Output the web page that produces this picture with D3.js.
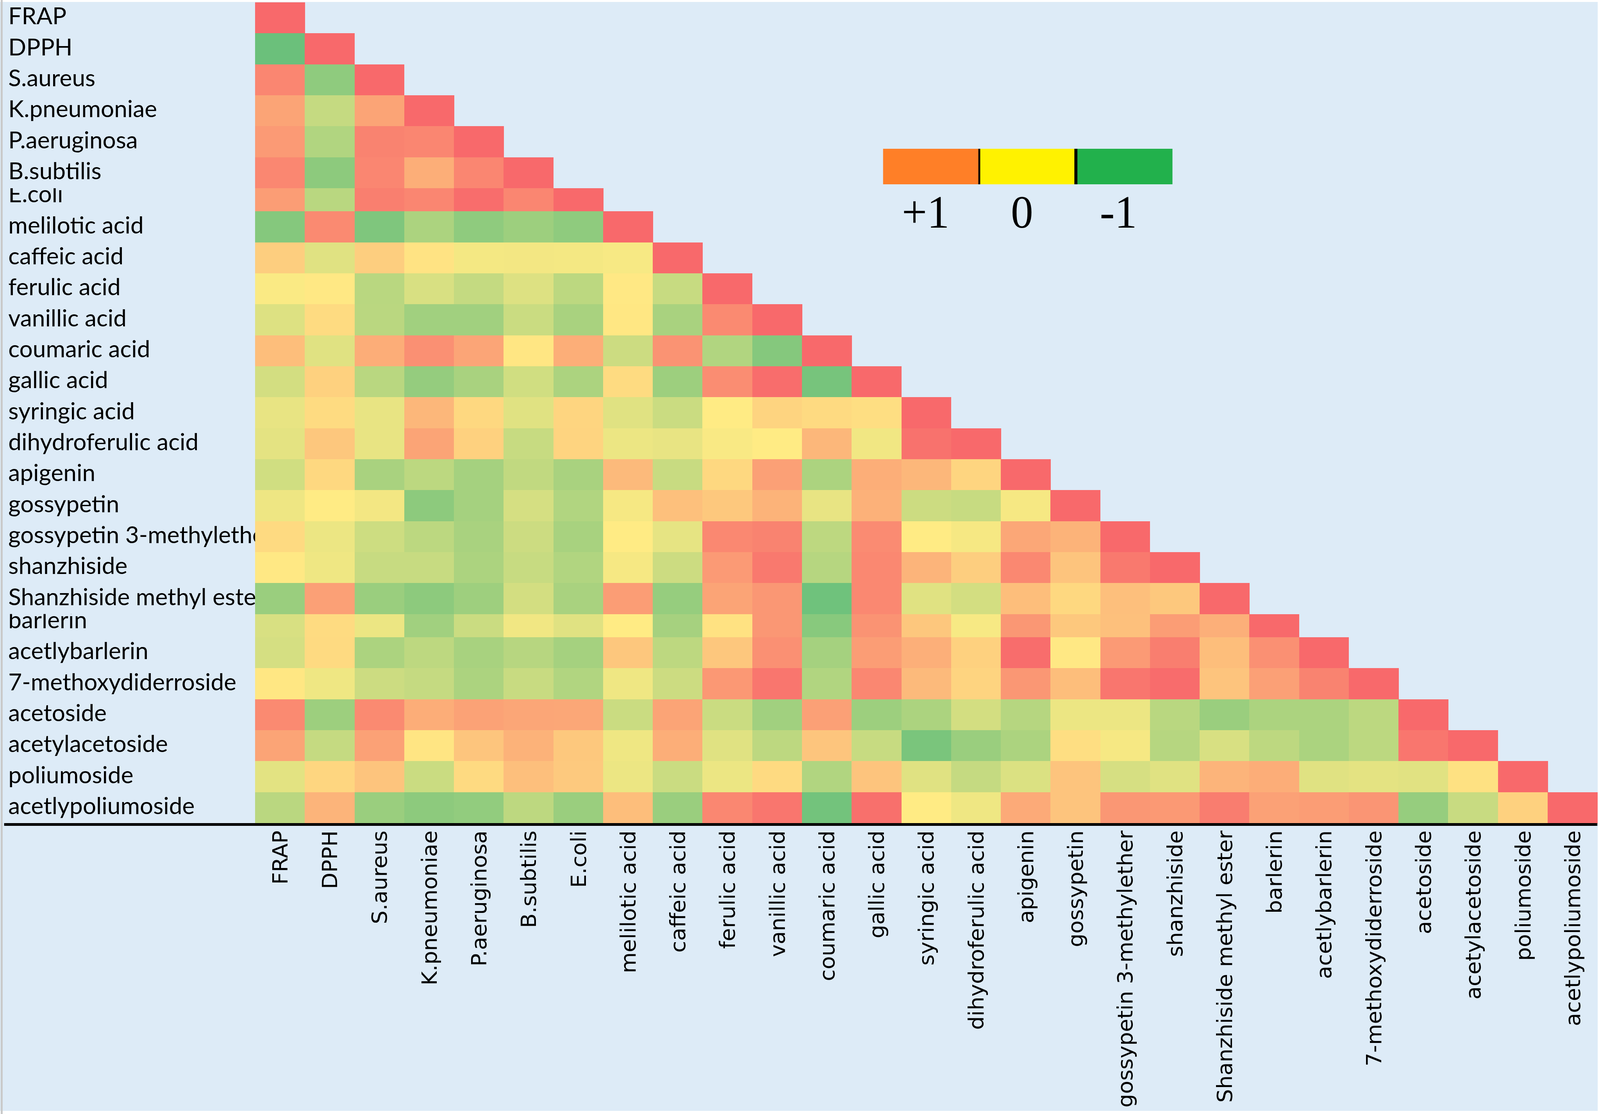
<!DOCTYPE html>
<html><head><meta charset="utf-8">
<script src="https://cdn.jsdelivr.net/npm/d3@7"></script>
<style>
html,body{margin:0;padding:0;background:#fff;width:100%;height:100%;overflow:hidden;}
svg{display:block;position:absolute;left:0;top:0;width:100vw;height:100vh;}
</style>
</head><body>
<script>
// ---------------- DATA ----------------
const variables = ["FRAP","DPPH","S.aureus","K.pneumoniae","P.aeruginosa","B.subtilis","E.coli",
  "melilotic acid","caffeic acid","ferulic acid","vanillic acid","coumaric acid","gallic acid",
  "syringic acid","dihydroferulic acid","apigenin","gossypetin","gossypetin 3-methylether",
  "shanzhiside","Shanzhiside methyl ester","barlerin","acetlybarlerin","7-methoxydiderroside",
  "acetoside","acetylacetoside","poliumoside","acetlypoliumoside"];

// lower-triangle correlation rows (row i has i+1 values, last = diagonal)
const corrRows = [
  [1],
  [-0.95, 1],
  [0.78, -0.72, 1],
  [0.55, -0.37, 0.55, 1],
  [0.62, -0.5, 0.8, 0.78, 1],
  [0.77, -0.73, 0.78, 0.47, 0.78, 1],
  [0.6, -0.45, 0.83, 0.78, 0.97, 0.78, 1],
  [-0.78, 0.75, -0.82, -0.53, -0.72, -0.63, -0.72, 1],
  [0.22, -0.2, 0.22, 0.06, -0.07, -0.08, -0.07, -0.05, 1],
  [-0.03, 0.02, -0.45, -0.25, -0.38, -0.22, -0.43, 0.02, -0.36, 1],
  [-0.22, 0.12, -0.44, -0.6, -0.6, -0.34, -0.55, 0.03, -0.55, 0.75, 1],
  [0.35, -0.2, 0.48, 0.7, 0.54, 0.04, 0.47, -0.33, 0.68, -0.5, -0.78, 1],
  [-0.28, 0.2, -0.45, -0.68, -0.55, -0.3, -0.53, 0.12, -0.63, 0.72, 0.97, -0.87, 1],
  [-0.15, 0.12, -0.15, 0.4, 0.15, -0.2, 0.17, -0.2, -0.34, 0.0, 0.18, 0.13, 0.1, 1],
  [-0.17, 0.28, -0.15, 0.55, 0.2, -0.36, 0.18, -0.12, -0.15, -0.04, 0.0, 0.4, -0.09, 0.93, 1],
  [-0.3, 0.15, -0.55, -0.43, -0.58, -0.4, -0.55, 0.38, -0.35, 0.15, 0.58, -0.53, 0.47, 0.4, 0.17, 1],
  [-0.11, 0.0, -0.08, -0.73, -0.58, -0.27, -0.5, -0.06, 0.33, 0.27, 0.43, -0.15, 0.45, -0.33, -0.36, -0.06, 1],
  [0.13, -0.12, -0.32, -0.43, -0.55, -0.33, -0.56, 0.0, -0.16, 0.76, 0.8, -0.42, 0.74, 0.0, -0.06, 0.52, 0.43, 1],
  [0.02, -0.1, -0.36, -0.36, -0.53, -0.36, -0.5, -0.06, -0.33, 0.62, 0.88, -0.47, 0.76, 0.42, 0.22, 0.76, 0.3, 0.88, 1],
  [-0.65, 0.58, -0.65, -0.73, -0.62, -0.28, -0.55, 0.6, -0.67, 0.55, 0.65, -0.92, 0.76, -0.2, -0.28, 0.35, 0.15, 0.34, 0.27, 1],
  [-0.25, 0.12, -0.12, -0.6, -0.34, -0.09, -0.2, 0.0, -0.57, 0.07, 0.65, -0.76, 0.68, 0.28, -0.05, 0.65, 0.27, 0.33, 0.6, 0.46, 1],
  [-0.27, 0.13, -0.53, -0.42, -0.56, -0.46, -0.58, 0.28, -0.42, 0.28, 0.7, -0.58, 0.6, 0.46, 0.2, 0.97, 0.02, 0.62, 0.84, 0.35, 0.7, 1],
  [0.03, -0.1, -0.33, -0.37, -0.53, -0.35, -0.5, -0.1, -0.33, 0.64, 0.9, -0.5, 0.77, 0.38, 0.18, 0.65, 0.35, 0.9, 0.98, 0.3, 0.58, 0.8, 1],
  [0.75, -0.63, 0.75, 0.48, 0.56, 0.53, 0.52, -0.34, 0.55, -0.34, -0.6, 0.58, -0.63, -0.53, -0.28, -0.47, -0.12, -0.12, -0.45, -0.65, -0.53, -0.53, -0.43, 1],
  [0.55, -0.37, 0.57, 0.05, 0.29, 0.44, 0.27, -0.1, 0.47, -0.2, -0.42, 0.29, -0.36, -0.85, -0.65, -0.53, 0.1, -0.06, -0.47, -0.25, -0.42, -0.54, -0.43, 0.9, 1],
  [-0.18, 0.16, 0.3, -0.34, 0.13, 0.34, 0.26, -0.12, -0.34, -0.12, 0.13, -0.5, 0.3, -0.2, -0.37, -0.23, 0.3, -0.26, -0.2, 0.42, 0.48, -0.2, -0.17, -0.19, 0.08, 1],
  [-0.44, 0.42, -0.65, -0.73, -0.7, -0.42, -0.65, 0.35, -0.65, 0.77, 0.9, -0.9, 0.95, 0.0, -0.1, 0.5, 0.3, 0.65, 0.63, 0.85, 0.57, 0.6, 0.66, -0.67, -0.35, 0.2, 1]
];

const legendLabels = ["+1", "0", "-1"];
const legendColors = ["#FF7F27", "#FFF200", "#22B14C"];
const scaleStops = [-1, 0, 1];
const scaleColors = ["#63BE7B", "#FFEB84", "#F8696B"];

// ---------------- LAYOUT ----------------
const W = 4227, H = 2853;
const svg = d3.select("body").append("svg")
  .attr("viewBox", `0 0 ${W} ${H}`)
  .attr("preserveAspectRatio", "none");

svg.append("rect").attr("width", W).attr("height", H).attr("fill", "#DDEBF7");
svg.append("rect").attr("x", 0).attr("y", 0).attr("width", W).attr("height", 5).attr("fill", "#ffffff");
svg.append("rect").attr("x", 0).attr("y", H - 8).attr("width", W).attr("height", 8).attr("fill", "#ffffff");
svg.append("rect").attr("x", W - 6).attr("y", 0).attr("width", 6).attr("height", H).attr("fill", "#ffffff");
svg.append("rect").attr("x", 2).attr("y", 0).attr("width", 5).attr("height", H).attr("fill", "#c9c9c9");

// columns: equal bands; rows: spreadsheet rows (two rows are shorter in the sheet)
const x = d3.scaleBand().domain(variables).range([674, 4220]);
const shortRows = new Set(["E.coli", "barlerin"]);
const rowWeights = variables.map(v => shortRows.has(v) ? 0.75 : 1);
const cum = [0, ...d3.cumsum(rowWeights)];
const yLin = d3.scaleLinear().domain([0, cum[cum.length - 1]]).range([6, 2108]);
const rowIndex = new Map(variables.map((v, i) => [v, i]));
const yTop = v => yLin(cum[rowIndex.get(v)]);
const yBot = v => yLin(cum[rowIndex.get(v) + 1]);

const color = d3.scaleLinear().domain(scaleStops).range(scaleColors);

const cells = corrRows.flatMap((row, i) => row.map((v, j) => ({ r: variables[i], c: variables[j], v })));

svg.append("g").attr("shape-rendering", "crispEdges")
  .selectAll("rect").data(cells).join("rect")
  .attr("x", d => x(d.c)).attr("y", d => yTop(d.r))
  .attr("width", x.bandwidth() + 0.6).attr("height", d => yBot(d.r) - yTop(d.r) + 0.6)
  .attr("fill", d => color(d.v));

// row labels: each clipped to its own spreadsheet cell
const defs = svg.append("defs");
defs.selectAll("clipPath").data(variables).join("clipPath")
  .attr("id", (d, i) => "rc" + i)
  .append("rect").attr("x", 0).attr("y", d => yTop(d))
  .attr("width", 674).attr("height", d => yBot(d) - yTop(d));

const rowFont = 60;
const probe = svg.append("text").attr("font-family", "Lato, 'Open Sans', sans-serif")
  .attr("font-size", rowFont).text("K.pneumoniae");
const probeLen = probe.node().getComputedTextLength();
probe.remove();
const sx = 393 / probeLen;

svg.append("g").selectAll("g").data(variables).join("g")
  .attr("clip-path", (d, i) => `url(#rc${i})`)
  .append("text")
  .attr("transform", d => `translate(22,${yBot(d) - 23}) scale(${sx},1)`)
  .attr("font-family", "Lato, 'Open Sans', sans-serif")
  .attr("font-size", rowFont).attr("fill", "#000")
  .text(d => d);

// bottom thick rule
svg.append("rect").attr("x", 11).attr("y", 2108).attr("width", 4209).attr("height", 7).attr("fill", "#000");

// column labels (rotated, reading bottom-to-top, top aligned)
const colTop = 2127;
svg.append("g").selectAll("text").data(variables).join("text")
  .attr("transform", d => `translate(${x(d) + x.bandwidth() / 2},${colTop}) rotate(-90)`)
  .attr("text-anchor", "end")
  .attr("dy", "0.36em")
  .attr("font-family", "'DejaVu Sans', Verdana, sans-serif")
  .attr("font-size", 55).attr("fill", "#000")
  .text(d => d);

// legend
const lx = d3.scaleBand().domain(legendLabels).range([2333, 3097]);
const lg = svg.append("g");
lg.selectAll("rect.sw").data(legendLabels).join("rect").attr("class", "sw")
  .attr("x", d => lx(d)).attr("y", 381)
  .attr("width", lx.bandwidth() + 0.5).attr("height", 91)
  .attr("fill", (d, i) => legendColors[i]);
lg.selectAll("rect.div").data(legendLabels.slice(1)).join("rect").attr("class", "div")
  .attr("x", (d, i) => lx(d) - (i === 0 ? 3 : 4)).attr("y", 381)
  .attr("width", (d, i) => i === 0 ? 5 : 8).attr("height", 91)
  .attr("fill", "#000");
lg.selectAll("text").data(legendLabels).join("text")
  .attr("x", d => lx(d) + lx.bandwidth() / 2 - 15).attr("y", 583)
  .attr("text-anchor", "middle")
  .attr("font-family", "'Liberation Serif', 'Times New Roman', serif")
  .attr("font-size", 118).attr("fill", "#000")
  .text(d => d);
</script>
</body></html>
